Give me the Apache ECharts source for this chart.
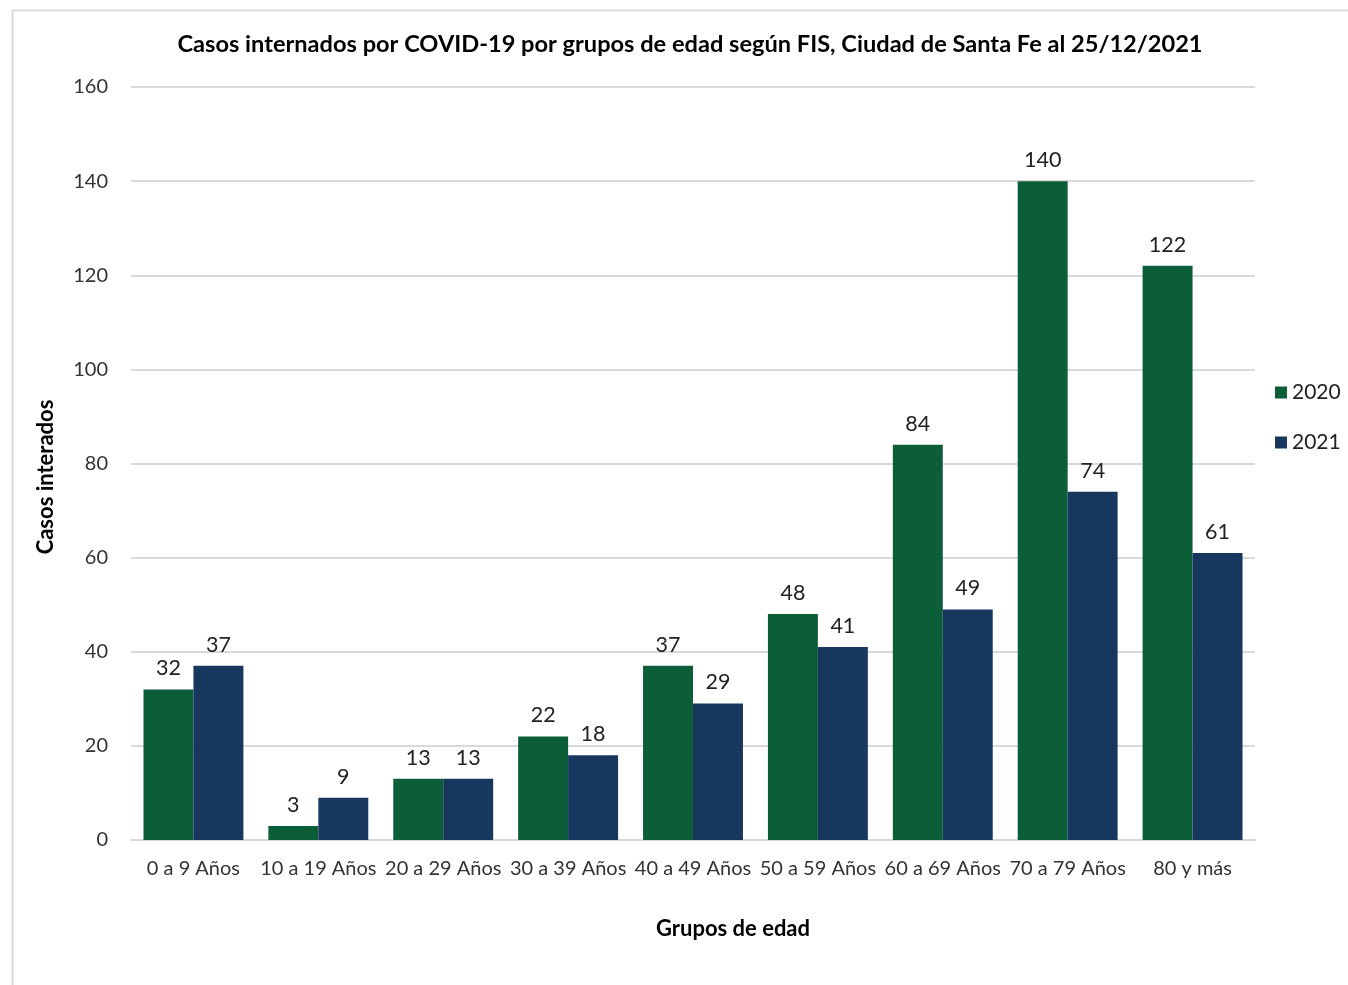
<!DOCTYPE html>
<html><head><meta charset="utf-8">
<script src="https://cdn.jsdelivr.net/npm/echarts@6/dist/echarts.min.js"></script>
<style>html,body{margin:0;padding:0;background:#fff}#c{width:1348px;height:985px}</style>
</head><body><div id="c"></div>
<script>
const categories = ['0 a 9 Años','10 a 19 Años','20 a 29 Años','30 a 39 Años','40 a 49 Años','50 a 59 Años','60 a 69 Años','70 a 79 Años','80 y más'];
const values2020 = [32,3,13,22,37,48,84,140,122];
const values2021 = [37,9,13,18,29,41,49,74,61];
const seriesNames = ['2020','2021'];
const yTicks = {min:0,max:160,interval:20};
const FONT = 'Lato';
const chart = echarts.init(document.getElementById('c'));
chart.setOption({
  animation:false,
  textStyle:{fontFamily:FONT},
  title:{text:'Casos internados por COVID-19 por grupos de edad según FIS, Ciudad de Santa Fe al 25/12/2021',left:685,top:27,textAlign:'center',
    textStyle:{fontFamily:FONT,fontSize:23.6,fontWeight:'bold',color:'#000'}},
  legend:{orient:'vertical',left:1270,top:377,itemWidth:12,itemHeight:12,itemGap:29,icon:'rect',
    textStyle:{fontFamily:FONT,fontSize:21,color:'#222'},data:seriesNames},
  grid:{left:131,right:93,top:87,bottom:145,containLabel:false},
  xAxis:{type:'category',data:categories,axisLine:{lineStyle:{color:'#d9d9d9',width:2}},axisTick:{show:false},
    axisLabel:{interval:0,fontFamily:FONT,fontSize:20,color:'#333',margin:19}},
  yAxis:{type:'value',min:yTicks.min,max:yTicks.max,interval:yTicks.interval,
    splitLine:{lineStyle:{color:'#d9d9d9',width:2}},axisLine:{show:false},axisTick:{show:false},
    axisLabel:{fontFamily:FONT,fontSize:20,color:'#333',margin:23}},
  graphic:[
    {type:'line',shape:{x1:12.5,y1:10,x2:12.5,y2:985},style:{stroke:'#d9d9d9',lineWidth:2}},
    {type:'line',shape:{x1:12,y1:10.5,x2:1348,y2:10.5},style:{stroke:'#d9d9d9',lineWidth:2}},
    {type:'text',x:733,y:929,style:{text:'Grupos de edad',fontFamily:FONT,fontSize:22,fontWeight:'bold',fill:'#000',align:'center',verticalAlign:'middle'}},
    {type:'text',x:46,y:477,rotation:Math.PI/2,style:{text:'Casos interados',fontFamily:FONT,fontSize:22,fontWeight:'bold',fill:'#000',align:'center',verticalAlign:'middle'}}
  ],
  series:[
    {name:seriesNames[0],type:'bar',data:values2020,barGap:'0%',barCategoryGap:'20%',
      itemStyle:{color:'#0b5e38'},label:{show:true,position:'top',distance:10,fontFamily:FONT,fontSize:21.5,color:'#222'}},
    {name:seriesNames[1],type:'bar',data:values2021,
      itemStyle:{color:'#17375e'},label:{show:true,position:'top',distance:10,fontFamily:FONT,fontSize:21.5,color:'#222'}}
  ]
});
</script></body></html>
